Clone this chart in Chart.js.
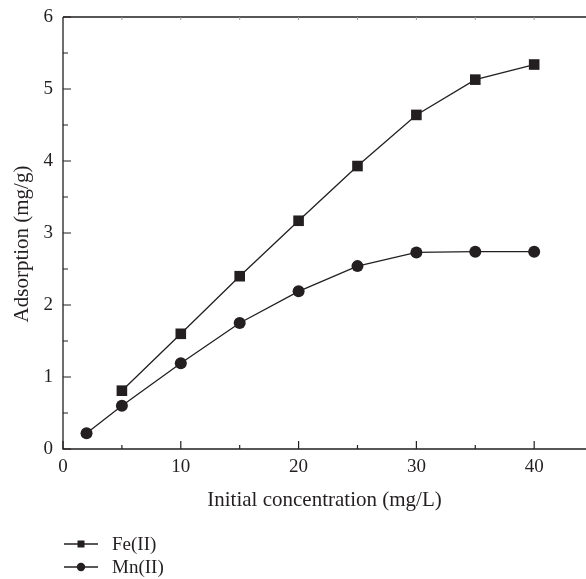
<!DOCTYPE html>
<html>
<head>
<meta charset="utf-8">
<script src="https://cdn.jsdelivr.net/npm/chart.js@4.4.1/dist/chart.umd.min.js"></script>
<style>
  html, body { margin: 0; padding: 0; background: #fff; }
  #wrap { width: 586px; height: 579px; position: relative; }
</style>
</head>
<body>
<div id="wrap"><canvas id="chart"></canvas></div>
<script>
// ── Data ─────────────────────────────────────────────────────────────────
const feConc = [5, 10, 15, 20, 25, 30, 35, 40];
const feAds  = [0.81, 1.60, 2.40, 3.17, 3.93, 4.64, 5.13, 5.34];
const mnConc = [2, 5, 10, 15, 20, 25, 30, 35, 40];
const mnAds  = [0.22, 0.60, 1.19, 1.75, 2.19, 2.54, 2.73, 2.74, 2.74];

const seriesNames = ['Fe(II)', 'Mn(II)'];
const xTitle = 'Initial concentration (mg/L)';
const yTitle = 'Adsorption (mg/g)';

const INK  = '#231f20';
const FONT = "'Liberation Serif', 'Times New Roman', serif";

function toPoints(xs, ys) {
  return xs.map((x, i) => ({ x, y: ys[i] }));
}

// ── Inward ticks, frame lines, y title and legend ────────────────────────
const framePlugin = {
  id: 'frame',
  afterDraw(chart) {
    const { ctx, chartArea: a, scales: { x, y } } = chart;
    ctx.save();
    ctx.strokeStyle = INK;
    ctx.lineWidth = 1.3;

    // axis lines
    ctx.beginPath();
    ctx.moveTo(a.left, a.top);
    ctx.lineTo(a.left, a.bottom);
    ctx.lineTo(a.right, a.bottom);
    ctx.moveTo(a.left, a.top);
    ctx.lineTo(a.right, a.top);
    ctx.stroke();

    ctx.lineWidth = 1.2;
    ctx.beginPath();
    x.ticks.forEach(t => {
      const px = x.getPixelForValue(t.value);
      const len = t.value % 10 === 0 ? 8 : 4;
      ctx.moveTo(px, a.bottom);
      ctx.lineTo(px, a.bottom - len);
    });
    y.ticks.forEach(t => {
      const py = y.getPixelForValue(t.value);
      const len = Number.isInteger(t.value) ? 8 : 5;
      ctx.moveTo(a.left, py);
      ctx.lineTo(a.left + len, py);
    });
    ctx.stroke();

    // faint ticks on the top frame
    ctx.strokeStyle = '#9a9a9a';
    ctx.lineWidth = 1;
    ctx.beginPath();
    x.ticks.forEach(t => {
      if (t.value === 0) return;
      const px = x.getPixelForValue(t.value);
      ctx.moveTo(px, a.top);
      ctx.lineTo(px, a.top + 3);
    });
    ctx.stroke();

    // y title, sits a little below the axis middle in the reference
    ctx.fillStyle = INK;
    ctx.font = `21px ${FONT}`;
    ctx.textAlign = 'center';
    ctx.textBaseline = 'middle';
    ctx.translate(22, 244);
    ctx.rotate(-Math.PI / 2);
    ctx.fillText(yTitle, 0, 0);
    ctx.setTransform(1, 0, 0, 1, 0, 0);

    // legend, bottom left
    const rows = [544, 567];
    chart.data.datasets.forEach((ds, i) => {
      const ly = rows[i];
      ctx.strokeStyle = INK;
      ctx.fillStyle = INK;
      ctx.lineWidth = 1.3;
      ctx.beginPath();
      ctx.moveTo(64, ly);
      ctx.lineTo(98, ly);
      ctx.stroke();
      if (ds.pointStyle === 'rect') {
        ctx.fillRect(81 - 3.5, ly - 3.5, 7, 7);
      } else {
        ctx.beginPath();
        ctx.arc(81, ly, 4.2, 0, Math.PI * 2);
        ctx.fill();
      }
      ctx.font = `19px ${FONT}`;
      ctx.textBaseline = 'middle';
      ctx.textAlign = 'left';
      ctx.fillText(ds.label, 112, ly + 1);
    });
    ctx.restore();
  }
};

new Chart(document.getElementById('chart'), {
  type: 'scatter',
  data: {
    datasets: [
      {
        label: seriesNames[0],
        data: toPoints(feConc, feAds),
        showLine: true,
        borderColor: INK,
        backgroundColor: INK,
        borderWidth: 1.3,
        pointStyle: 'rect',
        pointRadius: 7.5,
        pointBorderWidth: 0,
      },
      {
        label: seriesNames[1],
        data: toPoints(mnConc, mnAds),
        showLine: true,
        borderColor: INK,
        backgroundColor: INK,
        borderWidth: 1.3,
        pointStyle: 'circle',
        pointRadius: 6,
        pointBorderWidth: 0,
      },
    ],
  },
  options: {
    responsive: true,
    maintainAspectRatio: false,
    animation: false,
    layout: { autoPadding: false, padding: { top: 17, right: 0, bottom: 66, left: 0 } },
    plugins: {
      legend: { display: false },
      tooltip: { enabled: false },
    },
    scales: {
      x: {
        type: 'linear',
        min: 0,
        max: 44.4,
        grid: { display: false, drawTicks: false },
        border: { display: false },
        ticks: {
          stepSize: 5,
          includeBounds: false,
          autoSkip: false,
          maxRotation: 0,
          padding: 7,
          color: INK,
          font: { family: FONT, size: 19 },
          callback: v => (v % 10 === 0 ? v : ''),
        },
        title: {
          display: true,
          text: xTitle,
          color: INK,
          font: { family: FONT, size: 21 },
          padding: { top: 0, bottom: 0 },
        },
        afterFit: s => { s.height = 64; s.paddingLeft = 0; s.paddingRight = 0; },
      },
      y: {
        min: 0,
        max: 6,
        grid: { display: false, drawTicks: false },
        border: { display: false },
        ticks: {
          stepSize: 0.5,
          autoSkip: false,
          padding: 10,
          color: INK,
          font: { family: FONT, size: 19 },
          callback: v => (Number.isInteger(v) ? v : ''),
        },
        afterFit: s => { s.width = 63; s.paddingTop = 0; s.paddingBottom = 0; },
      },
    },
  },
  plugins: [framePlugin],
});
</script>
</body>
</html>
